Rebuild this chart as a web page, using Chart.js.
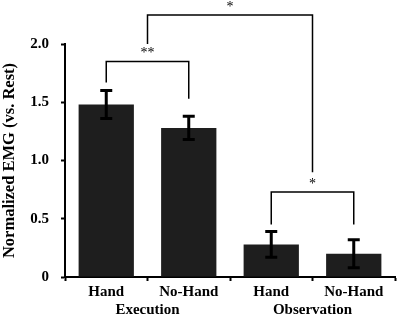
<!DOCTYPE html>
<html lang="en">
<head>
<meta charset="UTF-8">
<title>Normalized EMG</title>
<script src="https://cdn.jsdelivr.net/npm/chart.js@4"></script>
<style>
  html, body { margin: 0; padding: 0; background: #ffffff; }
  #wrap { width: 397px; height: 317px; }
</style>
</head>
<body>
<div id="wrap"><canvas id="emgChart"></canvas></div>
<script>
const categories = ['Hand', 'No-Hand', 'Hand', 'No-Hand'];
const groups = ['Execution', 'Observation'];
const means = [1.48, 1.28, 0.28, 0.20];
const errors = [0.12, 0.10, 0.11, 0.12];
const yTicks = [0, 0.5, 1.0, 1.5, 2.0];
// significance brackets: category positions and heights in data units
const bracketFrom = [0, 0.5, 2];
const bracketTo = [1, 2.5, 3];
const bracketTop = [1.85, 2.25, 0.73];
const bracketLeftEnd = [1.67, 2.0, 0.45];
const bracketRightEnd = [1.53, 0.90, 0.45];
const bracketLabels = ['**', '*', '*'];

const serif = "'Liberation Serif', 'Times New Roman', serif";
const ink = '#000000';

// error bars + brackets drawn on top of the bars
const annotations = {
    id: 'annotations',
    afterDatasetsDraw(chart) {
        const c = chart.ctx;
        const x = chart.scales.x;
        const y = chart.scales.y;
        c.save();
        c.strokeStyle = ink;
        c.lineCap = 'butt';

        // error bars
        c.lineWidth = 3;
        means.forEach((m, i) => {
            const px = x.getPixelForValue(i);
            const top = y.getPixelForValue(m + errors[i]);
            const bot = y.getPixelForValue(m - errors[i]);
            c.beginPath();
            c.moveTo(px, top); c.lineTo(px, bot);
            c.moveTo(px - 6, top); c.lineTo(px + 6, top);
            c.moveTo(px - 6, bot); c.lineTo(px + 6, bot);
            c.stroke();
        });

        // brackets
        c.lineWidth = 1.5;
        c.fillStyle = ink;
        c.font = '14px ' + serif;
        c.textAlign = 'center';
        c.textBaseline = 'bottom';
        bracketLabels.forEach((lab, i) => {
            const x1 = x.getPixelForValue(bracketFrom[i]);
            const x2 = x.getPixelForValue(bracketTo[i]);
            const yt = y.getPixelForValue(bracketTop[i]);
            c.beginPath();
            c.moveTo(x1, y.getPixelForValue(bracketLeftEnd[i]));
            c.lineTo(x1, yt);
            c.lineTo(x2, yt);
            c.lineTo(x2, y.getPixelForValue(bracketRightEnd[i]));
            c.stroke();
            c.fillText(lab, (x1 + x2) / 2, yt - 1);
        });
        c.restore();
    }
};

new Chart(document.getElementById('emgChart'), {
    type: 'bar',
    data: {
        labels: categories,
        datasets: [{
            data: means,
            backgroundColor: '#1e1e1e',
            borderWidth: 0,
            barPercentage: 0.67,
            categoryPercentage: 1.0
        }]
    },
    options: {
        responsive: true,
        maintainAspectRatio: false,
        animation: false,
        layout: { padding: { top: 44, right: 2, bottom: 0, left: 0 } },
        plugins: {
            legend: { display: false },
            tooltip: { enabled: false }
        },
        scales: {
            y: {
                min: 0,
                max: 2.0,
                afterBuildTicks: s => { s.ticks = yTicks.map(v => ({ value: v })); },
                afterFit: s => { s.width = 65; },
                border: { display: true, color: ink, width: 2 },
                grid: { drawOnChartArea: false, drawTicks: true, tickLength: 4, color: ink, tickWidth: 2 },
                ticks: {
                    color: ink,
                    padding: 12,
                    font: { family: serif, size: 15, weight: 'bold' },
                    callback: v => (v === 0 ? '0' : v.toFixed(1))
                },
                title: {
                    display: true,
                    text: 'Normalized EMG (vs. Rest)',
                    color: ink,
                    font: { family: serif, size: 16.5, weight: 'bold' },
                    padding: 0
                }
            },
            x: {
                offset: true,
                afterFit: s => { s.height = 24; },
                border: { display: true, color: ink, width: 2 },
                grid: { drawOnChartArea: false, drawTicks: true, tickLength: 4, color: ink, tickWidth: 2, offset: true },
                ticks: {
                    color: ink,
                    padding: 2,
                    font: { family: serif, size: 15, weight: 'bold' },
                    maxRotation: 0
                }
            },
            x2: {
                type: 'category',
                labels: groups,
                offset: true,
                position: 'bottom',
                afterFit: s => { s.height = 16; },
                border: { display: false },
                grid: { display: false, drawTicks: false },
                ticks: {
                    color: ink,
                    padding: 0,
                    font: { family: serif, size: 15, weight: 'bold' },
                    maxRotation: 0
                }
            }
        }
    },
    plugins: [annotations]
});
</script>
</body>
</html>
